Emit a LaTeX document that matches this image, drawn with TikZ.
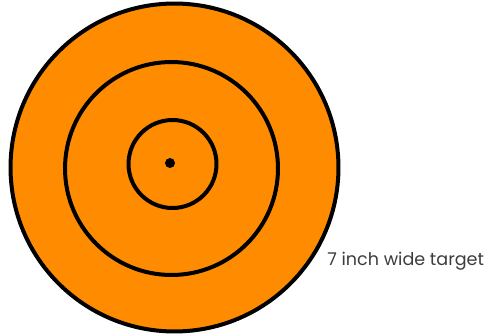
\documentclass[tikz,border=0pt]{standalone}
\usepackage{fontspec}
\setmainfont{Poppins}
\usetikzlibrary{positioning}
\definecolor{targetorange}{RGB}{255,140,0}
\definecolor{labelgray}{RGB}{60,60,60}

\begin{document}
\begin{tikzpicture}[
  x=0.02cm, y=-0.02cm,
  ring/.style={circle, draw=black, line width=0.08cm, inner sep=0pt},
  label text/.style={font=\fontsize{10}{12}\selectfont, text=labelgray, inner sep=0pt}
]
\useasboundingbox (0,0) rectangle (486,335);

%--- Rings ---%
\node[ring, fill=targetorange, minimum size=6.56cm] (outer)  at (174.5,167.5) {};
\node[ring, minimum size=4.26cm]                    (middle) at (171.5,168.5) {};
\node[ring, minimum size=1.76cm]                    (inner)  at (172.5,164)   {};
\node[circle, fill=black, inner sep=0pt, minimum size=0.2cm] (bull) at (170,163) {};

%--- Label ---%
\node[label text, anchor=west] (size) at (327,261) {7 inch wide target};

\end{tikzpicture}
\end{document}
